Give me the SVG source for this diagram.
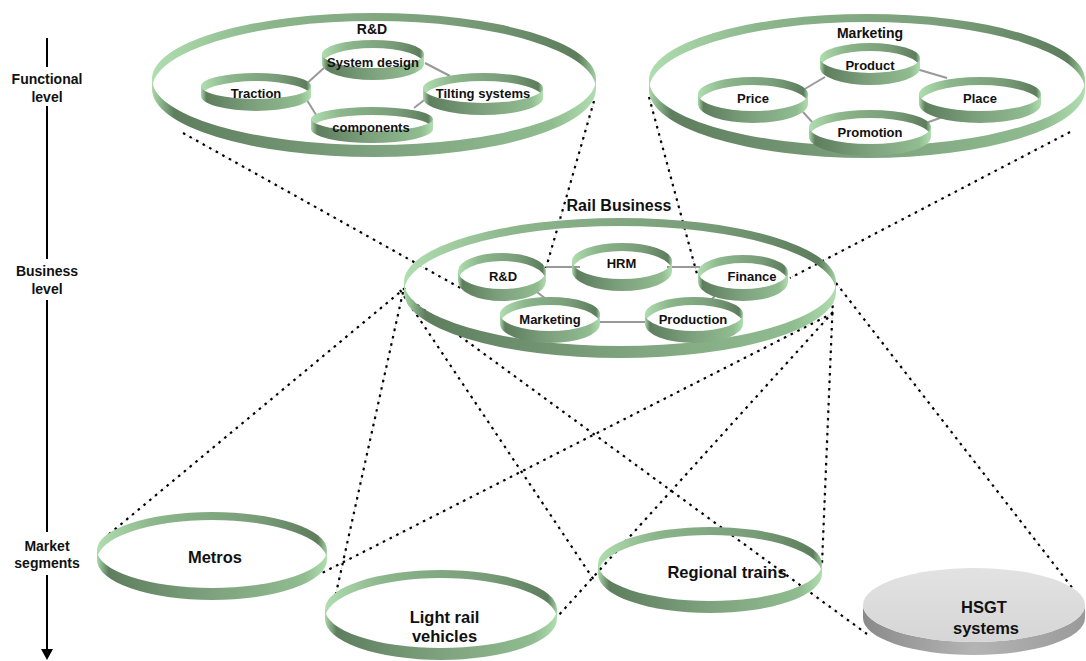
<svg xmlns="http://www.w3.org/2000/svg" width="1086" height="661" viewBox="0 0 1086 661">
<style>
text{font-family:"Liberation Sans",Arial,sans-serif;font-weight:bold;fill:#111;text-anchor:middle}
.ax{font-size:14px}
.lab{font-size:13px}
.ttl{font-size:14px}
.big{font-size:16.5px}
.rt{fill:url(#gTop)}
.rb{fill:url(#gBot)}
.link{stroke:#999;stroke-width:2;fill:none}
.dg{stroke:#aaa;stroke-width:0.8;fill:none;stroke-dasharray:1 1.5}
.dk{stroke:#000;stroke-width:2.2;fill:none;stroke-dasharray:2.5 5}
.axis{stroke:#000;stroke-width:2}
</style>
<defs>
<linearGradient id="gTop" x1="0" y1="0" x2="1" y2="0">
<stop offset="0" stop-color="#b0deb0"/>
<stop offset="0.25" stop-color="#8cb68c"/>
<stop offset="0.7" stop-color="#789c78"/>
<stop offset="0.96" stop-color="#5d7d5d"/>
<stop offset="1" stop-color="#a2d2a2"/>
</linearGradient>
<linearGradient id="gBot" x1="0" y1="0" x2="1" y2="0">
<stop offset="0" stop-color="#a8d8a8"/>
<stop offset="0.05" stop-color="#5e7e5e"/>
<stop offset="0.5" stop-color="#7ea27e"/>
<stop offset="0.9" stop-color="#90bc90"/>
<stop offset="1" stop-color="#b0deb0"/>
</linearGradient>
<linearGradient id="gSide" x1="0" y1="0" x2="1" y2="0">
<stop offset="0" stop-color="#8a8a8a"/>
<stop offset="0.5" stop-color="#b4b4b4"/>
<stop offset="1" stop-color="#9a9a9a"/>
</linearGradient>
<linearGradient id="gFace" x1="0" y1="0" x2="0" y2="1">
<stop offset="0" stop-color="#e2e2e2"/>
<stop offset="1" stop-color="#d6d6d6"/>
</linearGradient>
</defs>

<g id="axis">
<line class="axis" x1="47" y1="38" x2="47" y2="67"/>
<line class="axis" x1="47" y1="106" x2="47" y2="259"/>
<line class="axis" x1="47" y1="300" x2="47" y2="532"/>
<line class="axis" x1="47" y1="575" x2="47" y2="650"/>
<polygon points="41,649 53,649 47,660" fill="#000"/>
<text class="ax" x="47" y="84">Functional</text>
<text class="ax" x="47" y="102">level</text>
<text class="ax" x="47" y="276">Business</text>
<text class="ax" x="47" y="294">level</text>
<text class="ax" x="47" y="551">Market</text>
<text class="ax" x="47" y="568">segments</text>
</g>

<g id="connectors">
<g class="dg">
<line x1="183" y1="133" x2="464" y2="290"/>
<line x1="594" y1="101" x2="546" y2="268"/>
<line x1="649" y1="97" x2="697" y2="274"/>
<line x1="1070" y1="132" x2="790" y2="278"/>
<line x1="405" y1="288" x2="108" y2="535"/>
<line x1="403" y1="292" x2="335" y2="598"/>
<line x1="400" y1="290" x2="596" y2="583"/>
<line x1="405" y1="296" x2="867" y2="634"/>
<line x1="833" y1="313" x2="322" y2="573"/>
<line x1="833" y1="312" x2="558" y2="616"/>
<line x1="833" y1="298" x2="822" y2="564"/>
<line x1="836" y1="283" x2="1084" y2="603"/>
</g>
<g class="dk">
<line x1="183" y1="133" x2="464" y2="290"/>
<line x1="594" y1="101" x2="546" y2="268"/>
<line x1="649" y1="97" x2="697" y2="274"/>
<line x1="1070" y1="132" x2="790" y2="278"/>
<line x1="405" y1="288" x2="108" y2="535"/>
<line x1="403" y1="292" x2="335" y2="598"/>
<line x1="400" y1="290" x2="596" y2="583"/>
<line x1="405" y1="296" x2="867" y2="634"/>
<line x1="833" y1="313" x2="322" y2="573"/>
<line x1="833" y1="312" x2="558" y2="616"/>
<line x1="833" y1="298" x2="822" y2="564"/>
<line x1="836" y1="283" x2="1084" y2="603"/>
</g>
<g class="link">
<line x1="304" y1="86" x2="325" y2="67"/>
<line x1="305" y1="97" x2="318" y2="118"/>
<line x1="425" y1="63" x2="450" y2="76"/>
<line x1="428" y1="97" x2="414" y2="108"/>
<line x1="803" y1="90" x2="825" y2="77"/>
<line x1="803" y1="112" x2="813" y2="123"/>
<line x1="913" y1="68" x2="947" y2="78"/>
<line x1="957" y1="112" x2="923" y2="124"/>
<line x1="546" y1="267" x2="580" y2="267"/>
<line x1="667" y1="267" x2="700" y2="267"/>
<line x1="533" y1="289" x2="546" y2="299"/>
<line x1="722" y1="288" x2="712" y2="299"/>
<line x1="600" y1="322" x2="646" y2="322"/>
</g>
</g>

<g id="rd-outer">
<path class="rt" d="M152,79 A222,66 0 0 1 596,79 L596,89 A222,68 0 0 0 152,89 Z"/>
<path class="rb" d="M152,79 A222,66 0 0 0 596,79 L596,89 A222,68 0 0 1 152,89 Z"/>
<text class="ttl" x="372" y="34">R&amp;D</text>
</g>
<g id="rd-system">
<path class="rt" d="M322,54 A51,14 0 0 1 424,54 L424,64 A51,16 0 0 0 322,64 Z"/>
<path class="rb" d="M322,54 A51,14 0 0 0 424,54 L424,64 A51,16 0 0 1 322,64 Z"/>
<text class="lab" x="373" y="66.5">System design</text>
</g>
<g id="rd-traction">
<path class="rt" d="M201,86 A55,13 0 0 1 311,86 L311,96 A55,15 0 0 0 201,96 Z"/>
<path class="rb" d="M201,86 A55,13 0 0 0 311,86 L311,96 A55,15 0 0 1 201,96 Z"/>
<text class="lab" x="256" y="97.5">Traction</text>
</g>
<g id="rd-tilting">
<path class="rt" d="M423,88 A60,15 0 0 1 543,88 L543,98 A60,17 0 0 0 423,98 Z"/>
<path class="rb" d="M423,88 A60,15 0 0 0 543,88 L543,98 A60,17 0 0 1 423,98 Z"/>
<text class="lab" x="483" y="97.5">Tilting systems</text>
</g>
<g id="rd-components">
<path class="rt" d="M311,119 A61,12 0 0 1 433,119 L433,129 A61,14 0 0 0 311,129 Z"/>
<path class="rb" d="M311,119 A61,12 0 0 0 433,119 L433,129 A61,14 0 0 1 311,129 Z"/>
<text class="lab" x="371" y="131.5">components</text>
</g>

<g id="mk-outer">
<path class="rt" d="M649,80 A218,66 0 0 1 1085,80 L1085,90 A218,68 0 0 0 649,90 Z"/>
<path class="rb" d="M649,80 A218,66 0 0 0 1085,80 L1085,90 A218,68 0 0 1 649,90 Z"/>
<text class="ttl" x="870" y="38">Marketing</text>
</g>
<g id="mk-product">
<path class="rt" d="M820,58 A50,15 0 0 1 920,58 L920,68 A50,17 0 0 0 820,68 Z"/>
<path class="rb" d="M820,58 A50,15 0 0 0 920,58 L920,68 A50,17 0 0 1 820,68 Z"/>
<text class="lab" x="870" y="69.5">Product</text>
</g>
<g id="mk-price">
<path class="rt" d="M698,94 A55,17 0 0 1 808,94 L808,104 A55,19 0 0 0 698,104 Z"/>
<path class="rb" d="M698,94 A55,17 0 0 0 808,94 L808,104 A55,19 0 0 1 698,104 Z"/>
<text class="lab" x="753" y="102.5">Price</text>
</g>
<g id="mk-place">
<path class="rt" d="M919,94 A61,17 0 0 1 1041,94 L1041,104 A61,19 0 0 0 919,104 Z"/>
<path class="rb" d="M919,94 A61,17 0 0 0 1041,94 L1041,104 A61,19 0 0 1 919,104 Z"/>
<text class="lab" x="980" y="102.5">Place</text>
</g>
<g id="mk-promotion">
<path class="rt" d="M809,127 A61,17 0 0 1 931,127 L931,137 A61,19 0 0 0 809,137 Z"/>
<path class="rb" d="M809,127 A61,17 0 0 0 931,127 L931,137 A61,19 0 0 1 809,137 Z"/>
<text class="lab" x="870" y="136.5">Promotion</text>
</g>

<g id="rail-outer">
<path class="rt" d="M404,282 A216,64 0 0 1 836,282 L836,292 A216,66 0 0 0 404,292 Z"/>
<path class="rb" d="M404,282 A216,64 0 0 0 836,282 L836,292 A216,66 0 0 1 404,292 Z"/>
<text x="619" y="211" style="font-size:16px">Rail Business</text>
</g>
<g id="rail-rd">
<path class="rt" d="M458,271 A44,18 0 0 1 546,271 L546,281 A44,20 0 0 0 458,281 Z"/>
<path class="rb" d="M458,271 A44,18 0 0 0 546,271 L546,281 A44,20 0 0 1 458,281 Z"/>
<text class="lab" x="503" y="280.5">R&amp;D</text>
</g>
<g id="rail-hrm">
<path class="rt" d="M572,261 A50,18 0 0 1 672,261 L672,271 A50,20 0 0 0 572,271 Z"/>
<path class="rb" d="M572,261 A50,18 0 0 0 672,261 L672,271 A50,20 0 0 1 572,271 Z"/>
<text class="lab" x="621.5" y="267.5">HRM</text>
</g>
<g id="rail-finance">
<path class="rt" d="M698,272 A45,17 0 0 1 788,272 L788,282 A45,19 0 0 0 698,282 Z"/>
<path class="rb" d="M698,272 A45,17 0 0 0 788,272 L788,282 A45,19 0 0 1 698,282 Z"/>
<text class="lab" x="752" y="280.5">Finance</text>
</g>
<g id="rail-marketing">
<path class="rt" d="M500,314 A50,17 0 0 1 600,314 L600,324 A50,19 0 0 0 500,324 Z"/>
<path class="rb" d="M500,314 A50,17 0 0 0 600,314 L600,324 A50,19 0 0 1 500,324 Z"/>
<text class="lab" x="550" y="323.5">Marketing</text>
</g>
<g id="rail-production">
<path class="rt" d="M645,314 A49,17 0 0 1 743,314 L743,324 A49,19 0 0 0 645,324 Z"/>
<path class="rb" d="M645,314 A49,17 0 0 0 743,314 L743,324 A49,19 0 0 1 645,324 Z"/>
<text class="lab" x="693" y="323.5">Production</text>
</g>

<g id="seg-metros">
<path class="rt" d="M97,550 A115,38 0 0 1 327,550 L327,560 A115,40 0 0 0 97,560 Z"/>
<path class="rb" d="M97,550 A115,38 0 0 0 327,550 L327,560 A115,40 0 0 1 97,560 Z"/>
<text class="big" x="215" y="563">Metros</text>
</g>
<g id="seg-lightrail">
<path class="rt" d="M325,609 A116,39 0 0 1 557,609 L557,619 A116,41 0 0 0 325,619 Z"/>
<path class="rb" d="M325,609 A116,39 0 0 0 557,609 L557,619 A116,41 0 0 1 325,619 Z"/>
<text class="big" x="444.5" y="623">Light rail</text>
<text class="big" x="444.5" y="642">vehicles</text>
</g>
<g id="seg-regional">
<path class="rt" d="M598,564 A112,37 0 0 1 822,564 L822,574 A112,39 0 0 0 598,574 Z"/>
<path class="rb" d="M598,564 A112,37 0 0 0 822,564 L822,574 A112,39 0 0 1 598,574 Z"/>
<text class="big" x="727" y="578">Regional trains</text>
</g>
<g id="seg-hsgt">
<path fill="url(#gSide)" d="M863,605 A111,37 0 0 0 1085,605 L1085,618 A111,37 0 0 1 863,618 Z"/>
<ellipse cx="974" cy="605" rx="111" ry="37" fill="url(#gFace)"/>
<text class="big" x="984" y="613">HSGT</text>
<text class="big" x="986" y="634">systems</text>
</g>
</svg>
